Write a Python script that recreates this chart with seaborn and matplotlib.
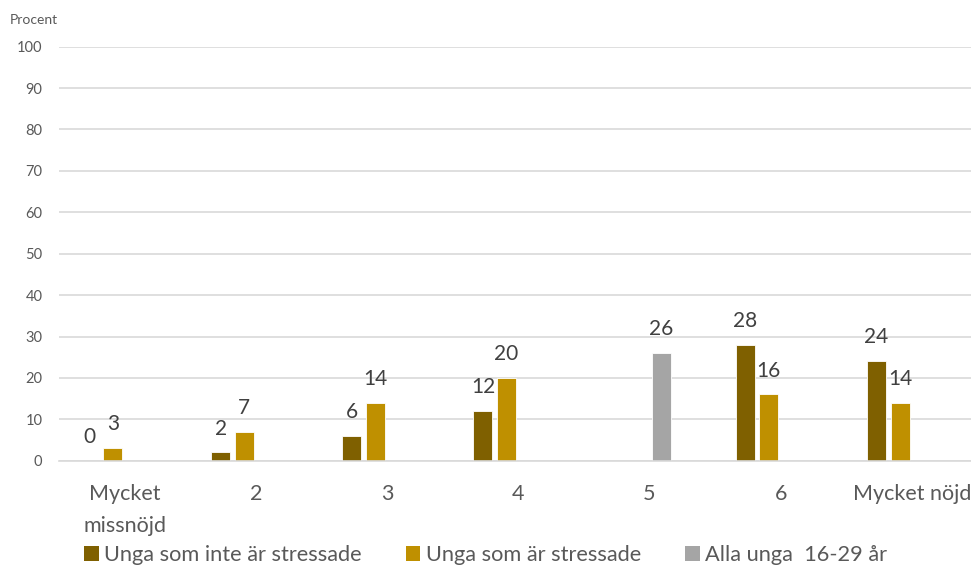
import numpy as np
import pandas as pd
import seaborn as sns
import matplotlib.pyplot as plt
from matplotlib.patches import Patch

# data
categories = ["Mycket\nmissnöjd", "2", "3", "4", "5", "6", "Mycket nöjd"]
inte_stressade = [0, 2, 6, 12, np.nan, 28, 24]
stressade = [3, 7, 14, 20, np.nan, 16, 14]
alla_unga = [np.nan, np.nan, np.nan, np.nan, 26, np.nan, np.nan]
series_names = ["Unga som inte är stressade", "Unga som är stressade", "Alla unga  16-29 år"]
colors = ["#7F6000", "#BF9000", "#A5A5A5"]
yticks = [0, 10, 20, 30, 40, 50, 60, 70, 80, 90, 100]

#long table for seaborn, the 4th (empty) slot keeps the excel spacing
df = pd.DataFrame({
    "kategori": categories * 3,
    "serie": [series_names[0]] * 7 + [series_names[1]] * 7 + [series_names[2]] * 7,
    "procent": inte_stressade + stressade + alla_unga,
})
df = df.dropna()
hue_order = series_names + ["tom"]
palette = dict(zip(hue_order, colors + ["white"]))

sns.set_theme(style="white")
plt.rcParams["font.family"] = ["Lato", "DejaVu Sans"]

fig = plt.figure(figsize=(9.71, 5.71), dpi=100)
ax = fig.add_axes([59 / 971, 110.3 / 571, 918.4 / 971, 414 / 571])

sns.barplot(data=df, x="kategori", y="procent", hue="serie", order=categories,
            hue_order=hue_order, palette=palette, saturation=1, width=0.716, gap=0.19,
            edgecolor="white", linewidth=0.6, legend=False, ax=ax)

for cont in ax.containers:
    ax.bar_label(cont, fmt="%g", padding=10, fontsize=15, color="#404040")

ax.set_ylim(0, 100)
ax.set_xlim(-0.5, len(categories) - 0.5)
ax.set_yticks(yticks)
ax.yaxis.grid(True, color="#D9D9D9", linewidth=1.2)
ax.set_axisbelow(True)
for s in ["top", "right", "left"]:
    ax.spines[s].set_visible(False)
ax.spines["bottom"].set_color("#D9D9D9")
ax.spines["bottom"].set_linewidth(1.2)
ax.set_xlabel("")
ax.set_ylabel("")
ax.tick_params(axis="y", length=0, pad=12, labelsize=10.5, labelcolor="#595959")
ax.tick_params(axis="x", length=0, pad=17, labelsize=15.5, labelcolor="#595959")
for lbl in ax.get_xticklabels():
    lbl.set_linespacing(1.75)

fig.text(10 / 971, 1 - 20 / 571, "Procent", fontsize=10, color="#595959", va="center")

handles = [Patch(facecolor=c, edgecolor="none") for c in colors]
fig.legend(handles, series_names, loc="center", bbox_to_anchor=(0.5, 1 - 555 / 571),
           ncol=3, frameon=False, fontsize=15.7, labelcolor="#595959",
           handlelength=0.68, handleheight=0.68, handletextpad=0.25, columnspacing=2.0)

fig.savefig("out.png", dpi=100)
